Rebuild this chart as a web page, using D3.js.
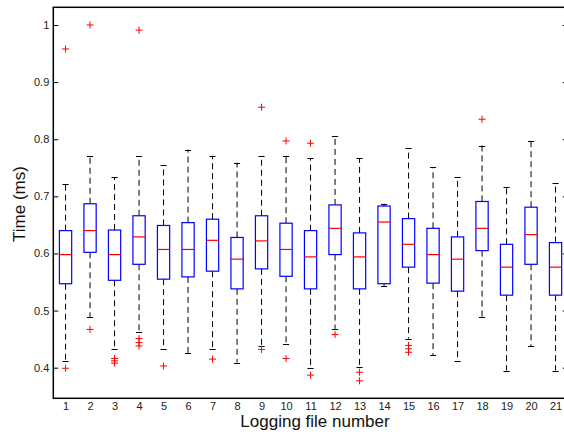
<!DOCTYPE html>
<html>
<head>
<meta charset="utf-8">
<script src="https://cdn.jsdelivr.net/npm/d3@7"></script>
<style>
  html, body { margin: 0; padding: 0; background: #fff; }
  svg { display: block; font-family: "Liberation Sans", Arial, Helvetica, sans-serif; }
</style>
</head>
<body>
<svg id="chart" width="564" height="437"></svg>
<script>
// Logging file numbers
const files = d3.range(1, 22);

// Box statistics per logging file (time in ms)
const whiskerHigh = [0.721, 0.771, 0.734, 0.771, 0.755, 0.782, 0.771, 0.759, 0.771, 0.771, 0.767,
                     0.805, 0.767, 0.687, 0.784, 0.751, 0.734, 0.789, 0.716, 0.797, 0.724];
const q3          = [0.640, 0.687, 0.641, 0.666, 0.649, 0.654, 0.660, 0.628, 0.666, 0.653, 0.640,
                     0.685, 0.636, 0.683, 0.661, 0.644, 0.629, 0.691, 0.616, 0.681, 0.619];
const medians     = [0.598, 0.640, 0.598, 0.629, 0.607, 0.607, 0.623, 0.590, 0.622, 0.607, 0.594,
                     0.644, 0.594, 0.655, 0.616, 0.598, 0.590, 0.644, 0.576, 0.633, 0.576];
const q1          = [0.547, 0.602, 0.553, 0.581, 0.555, 0.559, 0.569, 0.538, 0.573, 0.560, 0.538,
                     0.598, 0.538, 0.547, 0.576, 0.548, 0.534, 0.605, 0.527, 0.581, 0.527];
const whiskerLow  = [0.412, 0.489, 0.433, 0.462, 0.433, 0.425, 0.433, 0.409, 0.438, 0.441, 0.399,
                     0.468, 0.402, 0.543, 0.451, 0.422, 0.412, 0.489, 0.395, 0.438, 0.395];
const outliers    = [
  [0.958, 0.399], [1.000, 0.467], [0.416, 0.412, 0.408], [0.991, 0.451, 0.444, 0.438],
  [0.403], [], [0.415], [], [0.856, 0.432], [0.797, 0.416], [0.793, 0.387],
  [0.458], [0.392, 0.377], [], [0.439, 0.433, 0.427], [], [], [0.835], [], [], []
];
const yTicks = [0.4, 0.5, 0.6, 0.7, 0.8, 0.9, 1];

const svg = d3.select("#chart");

const x = d3.scaleLinear().domain([0.5, 21.5]).range([53.3, 567.8]);
const y = d3.scaleLinear().domain([0.3464, 1.031]).range([398.3, 7.3]);

const boxHalf = 0.25;   // box half-width in category units
const capHalf = 0.125;  // whisker cap half-width

const stats = files.map((f, i) => ({
  f, hi: whiskerHigh[i], q3: q3[i], med: medians[i], q1: q1[i], lo: whiskerLow[i], out: outliers[i]
}));

const g = svg.append("g");

// whiskers (dashed)
g.selectAll(".whisk-up").data(stats).join("line")
  .attr("x1", d => x(d.f)).attr("x2", d => x(d.f))
  .attr("y1", d => y(d.q3)).attr("y2", d => y(d.hi))
  .attr("stroke", "#000").attr("stroke-width", 1).attr("stroke-dasharray", "6,4");
g.selectAll(".whisk-lo").data(stats).join("line")
  .attr("x1", d => x(d.f)).attr("x2", d => x(d.f))
  .attr("y1", d => y(d.q1)).attr("y2", d => y(d.lo))
  .attr("stroke", "#000").attr("stroke-width", 1).attr("stroke-dasharray", "6,4");

// whisker caps
["hi", "lo"].forEach(k => {
  g.selectAll(".cap-" + k).data(stats).join("line")
    .attr("x1", d => x(d.f - capHalf)).attr("x2", d => x(d.f + capHalf))
    .attr("y1", d => Math.round(y(d[k])) + 0.5).attr("y2", d => Math.round(y(d[k])) + 0.5)
    .attr("stroke", "#000").attr("stroke-width", 1);
});

// boxes
g.selectAll(".box").data(stats).join("rect")
  .attr("x", d => x(d.f - boxHalf))
  .attr("y", d => y(d.q3))
  .attr("width", d => x(d.f + boxHalf) - x(d.f - boxHalf))
  .attr("height", d => y(d.q1) - y(d.q3))
  .attr("fill", "none").attr("stroke", "#0000ff").attr("stroke-width", 1.2);

// medians
g.selectAll(".med").data(stats).join("line")
  .attr("x1", d => x(d.f - boxHalf)).attr("x2", d => x(d.f + boxHalf))
  .attr("y1", d => y(d.med)).attr("y2", d => y(d.med))
  .attr("stroke", "#ff0000").attr("stroke-width", 1.2);

// outliers as red plus signs
const outPts = stats.flatMap(d => d.out.map(v => ({ f: d.f, v })));
const plus = g.selectAll(".out").data(outPts).join("g")
  .attr("transform", d => `translate(${x(d.f)},${y(d.v)})`);
plus.append("line").attr("x1", -3.5).attr("x2", 3.5).attr("y1", 0).attr("y2", 0)
  .attr("stroke", "#ff0000").attr("stroke-width", 1);
plus.append("line").attr("x1", 0).attr("x2", 0).attr("y1", -3.5).attr("y2", 3.5)
  .attr("stroke", "#ff0000").attr("stroke-width", 1);

// axes
const x0 = x.range()[0], x1 = x.range()[1];
const y0 = y.range()[0], y1 = y.range()[1];

const yAxisL = d3.axisLeft(y).tickValues(yTicks).tickFormat(d3.format("~g")).tickSizeInner(-5).tickSizeOuter(0).tickPadding(4);
const yAxisR = d3.axisRight(y).tickValues(yTicks).tickFormat("").tickSizeInner(-5).tickSizeOuter(0);
const xAxis = d3.axisBottom(x).tickValues(files).tickFormat(d3.format("d")).tickSize(0).tickPadding(4);

const gl = svg.append("g").attr("transform", `translate(${x0},0)`).call(yAxisL);
gl.select(".domain").remove();
gl.selectAll("text").attr("font-size", 11).attr("fill", "#222")
  .attr("font-family", "Liberation Sans, Arial, sans-serif");
gl.selectAll(".tick line").attr("stroke", "#000");

const gr = svg.append("g").attr("transform", `translate(${x1},0)`).call(yAxisR);
gr.select(".domain").remove();

const gb = svg.append("g").attr("transform", `translate(0,${y0})`).call(xAxis);
gb.select(".domain").remove();
gb.selectAll("text").attr("font-size", 11).attr("fill", "#222")
  .attr("font-family", "Liberation Sans, Arial, sans-serif");

// frame
svg.append("rect")
  .attr("x", x0).attr("y", y1).attr("width", x1 - x0).attr("height", y0 - y1)
  .attr("fill", "none").attr("stroke", "#000").attr("stroke-width", 1.5);

// axis titles
svg.append("text")
  .attr("x", 315).attr("y", 427)
  .attr("text-anchor", "middle").attr("font-size", 17).attr("fill", "#111")
  .text("Logging file number");

svg.append("text")
  .attr("transform", "translate(25,204) rotate(-90)")
  .attr("text-anchor", "middle").attr("font-size", 17).attr("fill", "#111")
  .text("Time (ms)");
</script>
</body>
</html>
